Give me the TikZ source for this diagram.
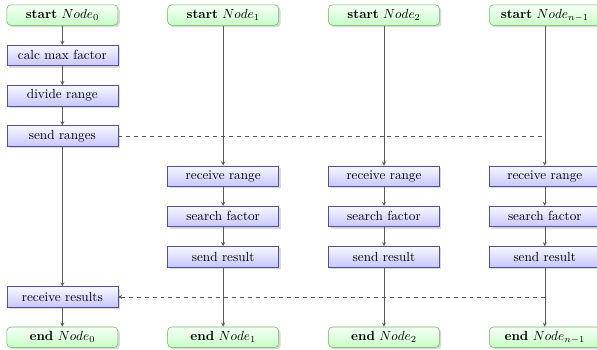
\documentclass[tikz,border=0pt]{standalone}
\usetikzlibrary{shadows}
\definecolor{taskline}{RGB}{80,80,155}
\definecolor{termline}{RGB}{105,185,85}
\tikzset{
  task/.style={draw=taskline, top color=blue!3, bottom color=blue!22,
    minimum width=84pt, minimum height=15.5pt, inner sep=2pt,
    drop shadow={shadow xshift=1.5pt, shadow yshift=-1.5pt, opacity=0.3}},
  terminal/.style={draw=termline, rounded corners=3pt, top color=green!3, bottom color=green!22,
    minimum width=84pt, minimum height=15.5pt, inner sep=2pt,
    drop shadow={shadow xshift=1.5pt, shadow yshift=-1.5pt, opacity=0.3}},
  flow/.style={->, >=stealth, black!65},
  msg/.style={dashed, black!65},
}
\begin{document}
\begin{tikzpicture}
  \def\dx{4.28} \def\dy{1.072}
  \useasboundingbox (-1.66,0.4) rectangle (14.23,-8.89);
  % master
  \node[terminal] (start0) at (0,0) {\textbf{start} $Node_0$};
  \node[task] (calc) at (0,-\dy) {calc max factor};
  \node[task] (divide) at (0,-2*\dy) {divide range};
  \node[task] (send) at (0,-3*\dy) {send ranges};
  \node[task] (recvres) at (0,-7*\dy) {receive results};
  \node[terminal] (end0) at (0,-8*\dy) {\textbf{end} $Node_0$};
  \draw[flow] (start0) -- (calc);
  \draw[flow] (calc) -- (divide);
  \draw[flow] (divide) -- (send);
  \draw[flow] (send) -- (recvres);
  \draw[flow] (recvres) -- (end0);
  % workers
  \foreach \i/\lab in {1/1,2/2,3/{n-1}} {
    \node[terminal] (start\i) at (\i*\dx,0) {\textbf{start} $Node_{\lab}$};
    \node[task] (recv\i) at (\i*\dx,-4*\dy) {receive range};
    \node[task] (search\i) at (\i*\dx,-5*\dy) {search factor};
    \node[task] (result\i) at (\i*\dx,-6*\dy) {send result};
    \node[terminal] (end\i) at (\i*\dx,-8*\dy) {\textbf{end} $Node_{\lab}$};
    \draw[flow] (start\i) -- (recv\i);
    \draw[flow] (recv\i) -- (search\i);
    \draw[flow] (search\i) -- (result\i);
    \draw[flow] (result\i) -- (end\i);
  }
  % messages
  \coordinate (bcast) at (send -| start3);
  \coordinate (gather) at (recvres -| start3);
  \draw[msg] (send.east) -- (bcast);
  \draw[msg,->,>=stealth] (gather) -- (recvres.east);
\end{tikzpicture}
\end{document}
